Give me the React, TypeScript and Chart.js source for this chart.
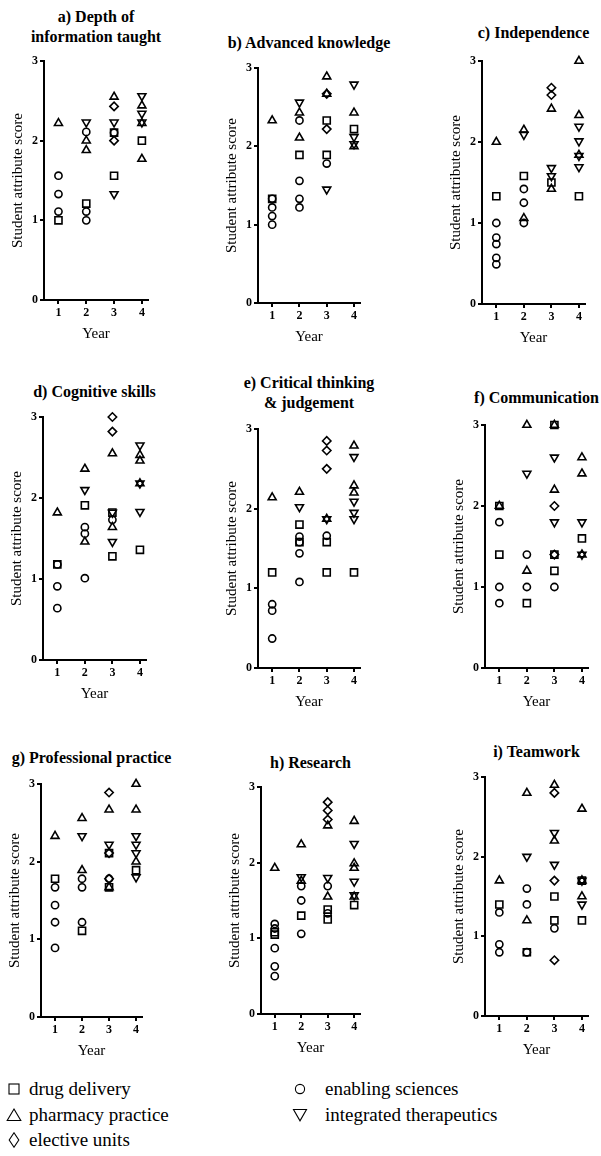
import React, { useEffect, useRef } from 'react';
import { Chart, registerables } from 'chart.js';

Chart.register(...registerables);

type Pt = [number, number];

// ---------- shared axis values ----------
const YEAR_TICKS = [1, 2, 3, 4];
const SCORE_TICKS = [0, 1, 2, 3];
const X_LABEL = 'Year';
const Y_LABEL = 'Student attribute score';

// ---------- a) Depth of information taught ----------
const aDrug: Pt[] = [[1, 1.0], [2, 1.21], [3, 2.1], [3, 1.56], [4, 2.0]];
const aPharm: Pt[] = [[1, 2.22], [2, 2.0], [2, 1.88], [3, 2.55], [4, 2.44], [4, 2.22], [4, 1.77]];
const aElect: Pt[] = [[3, 2.43], [3, 2.0]];
const aEnab: Pt[] = [[1, 1.56], [1, 1.33], [1, 1.11], [2, 2.11], [2, 1.11], [2, 1.0], [3, 2.1]];
const aInteg: Pt[] = [[2, 2.23], [3, 2.23], [3, 1.33], [4, 2.56], [4, 2.34], [4, 2.23]];

// ---------- b) Advanced knowledge ----------
const bDrug: Pt[] = [[1, 1.33], [2, 1.89], [3, 2.33], [3, 1.89], [4, 2.22]];
const bPharm: Pt[] = [[1, 2.33], [2, 2.43], [2, 2.11], [3, 2.89], [3, 2.67], [4, 2.43], [4, 2.0]];
const bElect: Pt[] = [[3, 2.67], [3, 2.22]];
const bEnab: Pt[] = [[1, 1.33], [1, 1.22], [1, 1.11], [1, 1.0], [2, 2.33], [2, 1.56], [2, 1.33], [2, 1.22], [3, 1.78]];
const bInteg: Pt[] = [[2, 2.56], [3, 1.45], [4, 2.79], [4, 2.12], [4, 2.03]];

// ---------- c) Independence ----------
const cDrug: Pt[] = [[1, 1.33], [2, 1.58], [3, 1.5], [4, 1.33]];
const cPharm: Pt[] = [[1, 2.0], [2, 2.15], [2, 1.06], [3, 2.41], [3, 1.42], [4, 3.0], [4, 2.33], [4, 1.84]];
const cElect: Pt[] = [[3, 2.67], [3, 2.58]];
const cEnab: Pt[] = [[1, 1.0], [1, 0.82], [1, 0.74], [1, 0.57], [1, 0.49], [2, 1.42], [2, 1.25], [2, 1.0]];
const cInteg: Pt[] = [[2, 2.09], [3, 1.68], [3, 1.58], [4, 2.19], [4, 2.01], [4, 1.83], [4, 1.69]];

// ---------- d) Cognitive skills ----------
const dDrug: Pt[] = [[1, 1.18], [2, 1.91], [3, 1.82], [3, 1.28], [4, 1.36]];
const dPharm: Pt[] = [[1, 1.82], [2, 2.36], [2, 1.46], [3, 2.55], [3, 1.64], [4, 2.53], [4, 2.46], [4, 2.18]];
const dElect: Pt[] = [[3, 3.0], [3, 2.82]];
const dEnab: Pt[] = [[1, 1.18], [1, 0.91], [1, 0.64], [2, 1.64], [2, 1.56], [2, 1.01], [3, 1.73]];
const dInteg: Pt[] = [[2, 2.1], [3, 1.82], [3, 1.46], [4, 2.65], [4, 2.18], [4, 1.83]];

// ---------- e) Critical thinking & judgement ----------
const eDrug: Pt[] = [[1, 1.2], [2, 1.8], [2, 1.58], [3, 1.58], [3, 1.2], [4, 1.2]];
const ePharm: Pt[] = [[1, 2.14], [2, 2.21], [3, 1.87], [4, 2.79], [4, 2.29], [4, 2.2]];
const eElect: Pt[] = [[3, 2.85], [3, 2.73], [3, 2.5]];
const eEnab: Pt[] = [[1, 0.8], [1, 0.72], [1, 0.37], [2, 1.65], [2, 1.58], [2, 1.44], [2, 1.08], [3, 1.66]];
const eInteg: Pt[] = [[2, 2.02], [3, 1.87], [4, 2.65], [4, 2.09], [4, 1.95], [4, 1.87]];

// ---------- f) Communication ----------
const fDrug: Pt[] = [[1, 2.0], [1, 1.4], [2, 0.8], [3, 3.0], [3, 1.4], [3, 1.2], [4, 1.6]];
const fPharm: Pt[] = [[1, 2.0], [2, 3.0], [2, 1.2], [3, 3.0], [3, 2.2], [4, 2.6], [4, 2.4], [4, 1.4]];
const fElect: Pt[] = [[3, 2.0], [3, 1.4]];
const fEnab: Pt[] = [[1, 1.8], [1, 1.0], [1, 0.8], [2, 1.4], [2, 1.0], [3, 1.0]];
const fInteg: Pt[] = [[2, 2.4], [3, 2.6], [3, 1.8], [4, 1.8], [4, 1.4]];

// ---------- g) Professional practice ----------
const gDrug: Pt[] = [[1, 1.78], [2, 1.11], [3, 2.11], [3, 1.67], [4, 1.89]];
const gPharm: Pt[] = [[1, 2.33], [2, 2.56], [2, 1.89], [3, 2.67], [3, 1.67], [4, 3.0], [4, 2.67], [4, 2.0]];
const gElect: Pt[] = [[3, 2.89], [3, 2.11], [3, 1.78]];
const gEnab: Pt[] = [[1, 1.67], [1, 1.44], [1, 1.22], [1, 0.89], [2, 1.78], [2, 1.67], [2, 1.22], [3, 1.78]];
const gInteg: Pt[] = [[2, 2.33], [3, 2.22], [4, 2.33], [4, 2.22], [4, 2.11], [4, 1.8]];

// ---------- h) Research ----------
const hDrug: Pt[] = [[1, 1.08], [1, 1.05], [2, 1.3], [3, 1.38], [3, 1.25], [4, 1.44]];
const hPharm: Pt[] = [[1, 1.93], [2, 2.24], [2, 1.76], [3, 2.49], [3, 1.55], [4, 2.55], [4, 1.99], [4, 1.93], [4, 1.55]];
const hElect: Pt[] = [[3, 2.8], [3, 2.69], [3, 2.57]];
const hEnab: Pt[] = [[1, 1.19], [1, 1.13], [1, 0.87], [1, 0.63], [1, 0.5], [2, 1.69], [2, 1.5], [2, 1.06], [3, 1.69], [3, 1.33]];
const hInteg: Pt[] = [[2, 1.81], [3, 1.8], [4, 2.25], [4, 1.75], [4, 1.57]];

// ---------- i) Teamwork ----------
const iDrug: Pt[] = [[1, 1.4], [2, 0.8], [3, 1.5], [3, 1.2], [4, 1.2], [4, 1.7]];
const iPharm: Pt[] = [[1, 1.7], [2, 2.8], [2, 1.2], [3, 2.9], [3, 2.2], [4, 2.6], [4, 1.7], [4, 1.5]];
const iElect: Pt[] = [[3, 2.8], [3, 1.7], [3, 0.7]];
const iEnab: Pt[] = [[1, 1.3], [1, 0.9], [1, 0.8], [2, 1.6], [2, 1.4], [2, 0.8], [3, 1.1]];
const iInteg: Pt[] = [[2, 2.0], [3, 2.3], [3, 1.9], [4, 1.7], [4, 1.4]];

const SERIES_NAMES = ['drug delivery', 'pharmacy practice', 'elective units', 'enabling sciences', 'integrated therapeutics'];

// ---------- styling / layout (kept apart from data) ----------
const FONT = '"Liberation Serif", "Times New Roman", Tinos, Times, serif';
const AX_W = 45; // y-axis box width
const AX_H = 44; // x-axis box height
const PAD_T = 10;
const PAD_R = 8;

const SERIES_STYLE = [
  { pointStyle: 'rect', radius: 5, rotation: 0 },
  { pointStyle: 'triangle', radius: 4.6, rotation: 0 },
  { pointStyle: 'rectRot', radius: 4.2, rotation: 0 },
  { pointStyle: 'circle', radius: 3.6, rotation: 0 },
  { pointStyle: 'triangle', radius: 4.6, rotation: 180 },
];

type PanelDef = {
  title: string[];
  series: Pt[][];
  L: number; T: number; B: number; R: number; // axis box in page pixels
  titleY: number;
};

const PANELS: PanelDef[] = [
  { title: ['a) Depth of', 'information taught'], series: [aDrug, aPharm, aElect, aEnab, aInteg], L: 44, T: 61, B: 300, R: 148, titleY: 17 },
  { title: ['b) Advanced knowledge'], series: [bDrug, bPharm, bElect, bEnab, bInteg], L: 258, T: 68, B: 303, R: 360, titleY: 43 },
  { title: ['c) Independence'], series: [cDrug, cPharm, cElect, cEnab, cInteg], L: 482, T: 61, B: 304, R: 585, titleY: 33 },
  { title: ['d) Cognitive skills'], series: [dDrug, dPharm, dElect, dEnab, dInteg], L: 43, T: 417, B: 660, R: 146, titleY: 392 },
  { title: ['e) Critical thinking', '& judgement'], series: [eDrug, ePharm, eElect, eEnab, eInteg], L: 258, T: 429, B: 668, R: 360, titleY: 383 },
  { title: ['f) Communication'], series: [fDrug, fPharm, fElect, fEnab, fInteg], L: 485, T: 425, B: 668, R: 588, titleY: 398 },
  { title: ['g) Professional practice'], series: [gDrug, gPharm, gElect, gEnab, gInteg], L: 41, T: 784, B: 1017, R: 142, titleY: 758 },
  { title: ['h) Research'], series: [hDrug, hPharm, hElect, hEnab, hInteg], L: 261, T: 787, B: 1014, R: 360, titleY: 763 },
  { title: ['i) Teamwork'], series: [iDrug, iPharm, iElect, iEnab, iInteg], L: 485, T: 777, B: 1016, R: 588, titleY: 752 },
];

function axisCommon() {
  return {
    grid: { display: true, drawOnChartArea: false, drawTicks: true, tickLength: 4, color: '#000', lineWidth: 2 },
    border: { display: true, color: '#000', width: 2 },
  };
}

function Panel({ p }: { p: PanelDef }) {
  const ref = useRef<HTMLCanvasElement | null>(null);
  const w = AX_W + (p.R - p.L) + PAD_R;
  const h = PAD_T + (p.B - p.T) + AX_H;

  useEffect(() => {
    if (!ref.current) return;
    const datasets = p.series.map((pts, i) => ({
      label: SERIES_NAMES[i],
      data: pts.map(([x, y]) => ({ x, y })),
      showLine: false,
      pointStyle: SERIES_STYLE[i].pointStyle as any,
      pointRadius: SERIES_STYLE[i].radius,
      pointRotation: SERIES_STYLE[i].rotation,
      pointBorderColor: '#000',
      pointBackgroundColor: 'rgba(0,0,0,0)',
      pointBorderWidth: 1.6,
      clip: false as any,
    }));
    const chart = new Chart(ref.current, {
      type: 'scatter',
      data: { datasets },
      options: {
        animation: false,
        responsive: false,
        maintainAspectRatio: false,
        devicePixelRatio: 1,
        events: [],
        layout: { padding: { top: PAD_T, right: PAD_R, left: 0, bottom: 0 } },
        plugins: { legend: { display: false }, tooltip: { enabled: false }, title: { display: false } },
        scales: {
          x: {
            type: 'linear',
            min: 0.48,
            max: 4.22,
            ...axisCommon(),
            afterBuildTicks: (s: any) => { s.ticks = YEAR_TICKS.map((v) => ({ value: v })); },
            afterFit: (s: any) => { s.height = AX_H; },
            ticks: { color: '#000', font: { family: FONT, size: 12, weight: 'bold' }, padding: 2, maxRotation: 0, autoSkip: false },
            title: { display: true, text: X_LABEL, color: '#000', font: { family: FONT, size: 15 }, padding: { top: 0, bottom: 1 } },
          },
          y: {
            type: 'linear',
            min: 0,
            max: 3,
            ...axisCommon(),
            afterBuildTicks: (s: any) => { s.ticks = SCORE_TICKS.map((v) => ({ value: v })); },
            afterFit: (s: any) => { s.width = AX_W; },
            ticks: { color: '#000', font: { family: FONT, size: 12, weight: 'bold' }, padding: 2, autoSkip: false },
            title: { display: true, text: Y_LABEL, color: '#000', font: { family: FONT, size: 15 }, padding: { top: 10, bottom: 0 } },
          },
        },
      } as any,
    });
    let alive = true;
    const fonts = (document as any).fonts;
    if (fonts && fonts.load) {
      Promise.all([
        fonts.load('bold 12px "Liberation Serif"'),
        fonts.load('15px "Liberation Serif"'),
      ]).then(() => { if (alive) chart.update(); }).catch(() => {});
    }
    return () => { alive = false; chart.destroy(); };
  }, []);

  const cx = (p.L + p.R) / 2;
  return (
    <>
      <div
        style={{
          position: 'absolute', left: cx - 150, width: 300, top: p.titleY - 10, textAlign: 'center',
          fontFamily: FONT, fontWeight: 'bold', fontSize: 16, lineHeight: '20px', color: '#000', whiteSpace: 'pre',
        }}
      >
        {p.title.map((t, i) => <div key={i}>{t}</div>)}
      </div>
      <canvas
        ref={ref}
        width={w}
        height={h}
        style={{ position: 'absolute', left: p.L - AX_W, top: p.T - PAD_T, width: w, height: h }}
      />
    </>
  );
}

function Marker({ kind }: { kind: number }) {
  const s = { fill: 'none', stroke: '#000', strokeWidth: 1.1 };
  let shape: any = null;
  if (kind === 0) shape = <rect x={3} y={3} width={10} height={10} {...s} />;
  if (kind === 1) shape = <polygon points="8,2 14.8,13.5 1.2,13.5" {...s} />;
  if (kind === 2) shape = <polygon points="8,0.8 12.8,8 8,15.2 3.2,8" {...s} />;
  if (kind === 3) shape = <circle cx={8} cy={8} r={4.6} {...s} />;
  if (kind === 4) shape = <polygon points="1.5,2.5 14.5,2.5 8,13.8" {...s} />;
  return <svg width={16} height={16} style={{ display: 'block' }}>{shape}</svg>;
}

const LEGEND_POS = [
  { mx: 14, tx: 29, y: 1089 },
  { mx: 14, tx: 29, y: 1115 },
  { mx: 14, tx: 29, y: 1140 },
  { mx: 300, tx: 325, y: 1089 },
  { mx: 300, tx: 325, y: 1115 },
];

export default function App() {
  return (
    <div style={{ position: 'absolute', left: 0, top: 0, width: 601, height: 1156, background: '#fff', overflow: 'hidden' }}>
      {PANELS.map((p, i) => <Panel key={i} p={p} />)}
      {SERIES_NAMES.map((name, i) => (
        <React.Fragment key={name}>
          <div style={{ position: 'absolute', left: LEGEND_POS[i].mx - 8, top: LEGEND_POS[i].y - 8 }}>
            <Marker kind={i} />
          </div>
          <div
            style={{
              position: 'absolute', left: LEGEND_POS[i].tx, top: LEGEND_POS[i].y - 12, fontFamily: FONT,
              fontSize: 19, lineHeight: '24px', color: '#000', whiteSpace: 'nowrap',
            }}
          >
            {name}
          </div>
        </React.Fragment>
      ))}
    </div>
  );
}
